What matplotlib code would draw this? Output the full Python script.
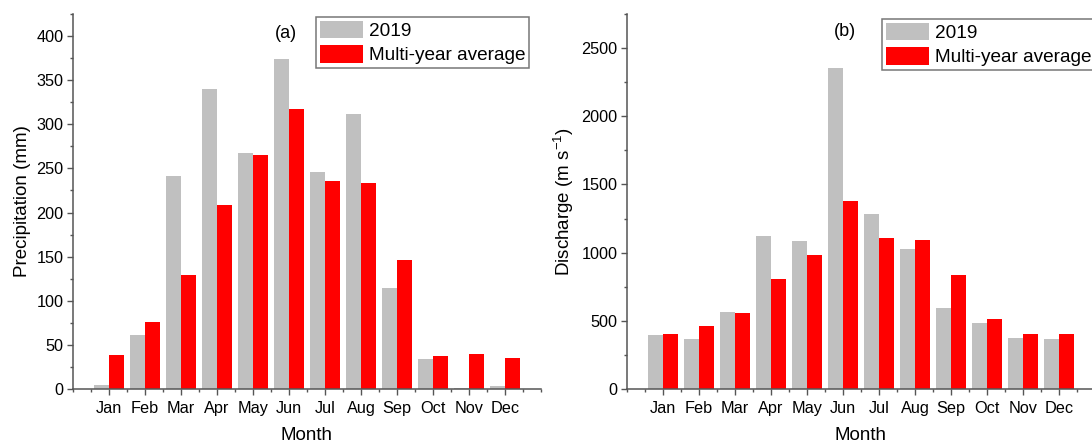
import matplotlib
matplotlib.use("Agg")
from matplotlib import pyplot as plt
from matplotlib.ticker import MultipleLocator
import numpy as np

plt.rcParams["font.family"] = ["Liberation Sans", "DejaVu Sans"]

months = ["Jan", "Feb", "Mar", "Apr", "May", "Jun",
          "Jul", "Aug", "Sep", "Oct", "Nov", "Dec"]

precip_2019 = [4, 61, 241, 340, 267, 374, 246, 312, 114, 34, 1, 3]
precip_avg = [39, 76, 129, 209, 265, 317, 236, 234, 146, 37, 40, 35]

discharge_2019 = [393, 364, 562, 1119, 1083, 2351, 1281, 1024, 591, 481, 371, 364]
discharge_avg = [401, 459, 555, 804, 980, 1376, 1105, 1090, 833, 511, 401, 401]

gray = "#c0c0c0"
red = "#ff0000"
spine_col = "#555555"

W, H = 1092, 442
fig = plt.figure(figsize=(W / 100, H / 100), dpi=100)


def make_panel(ax, v2019, vavg, ylim, major, ylabel, tag, tag_xy, leg_xy):
    x = np.arange(1, 13)
    w = 0.415
    ax.bar(x - w / 2, v2019, w, color=gray, label="2019", linewidth=0)
    ax.bar(x + w / 2, vavg, w, color=red, label="Multi-year average", linewidth=0)
    ax.set_xlim(0, 13)
    ax.set_ylim(0, ylim)
    ax.set_xticks(x)
    ax.set_xticklabels(months)
    ax.xaxis.set_minor_locator(MultipleLocator(0.5))
    ax.yaxis.set_major_locator(MultipleLocator(major))
    ax.yaxis.set_minor_locator(MultipleLocator(major / 2))
    for s in ["top", "right"]:
        ax.spines[s].set_visible(False)
    for s in ["left", "bottom"]:
        ax.spines[s].set_color(spine_col)
        ax.spines[s].set_linewidth(1.1)
    ax.tick_params(which="major", direction="out", length=4, width=1.0,
                   color=spine_col, labelsize=11.7, pad=3)
    ax.tick_params(axis="x", which="major", pad=4.5)
    ax.tick_params(which="minor", direction="out", length=2.5, width=1.0,
                   color=spine_col)
    ax.set_xlabel("Month", fontsize=13.5, labelpad=8)
    ax.set_ylabel(ylabel, fontsize=13.5, labelpad=4)
    fig.text(tag_xy[0] / W, 1 - tag_xy[1] / H, tag, fontsize=13,
             ha="center", va="center")
    leg = ax.legend(loc="upper left", bbox_to_anchor=(leg_xy[0] / W, 1 - leg_xy[1] / H),
                    bbox_transform=fig.transFigure, borderaxespad=0,
                    fontsize=13.7, frameon=True, fancybox=False,
                    handlelength=2.25, handleheight=1.05, handletextpad=0.32,
                    borderpad=0.2, labelspacing=0.25)
    leg.get_frame().set_edgecolor(spine_col)
    leg.get_frame().set_linewidth(1.1)


ax1 = fig.add_axes([73 / W, (H - 389) / H, (541 - 73) / W, (389 - 14) / H])
ax2 = fig.add_axes([627 / W, (H - 389) / H, (1095 - 627) / W, (389 - 14) / H])

make_panel(ax1, precip_2019, precip_avg, 425, 50, "Precipitation (mm)",
           "(a)", (286, 34), (316, 17))
make_panel(ax2, discharge_2019, discharge_avg, 2750, 500,
           r"Discharge (m s$^{\mathregular{-1}}$)", "(b)", (845, 31), (882, 19))

fig.savefig("out.png", dpi=100)
